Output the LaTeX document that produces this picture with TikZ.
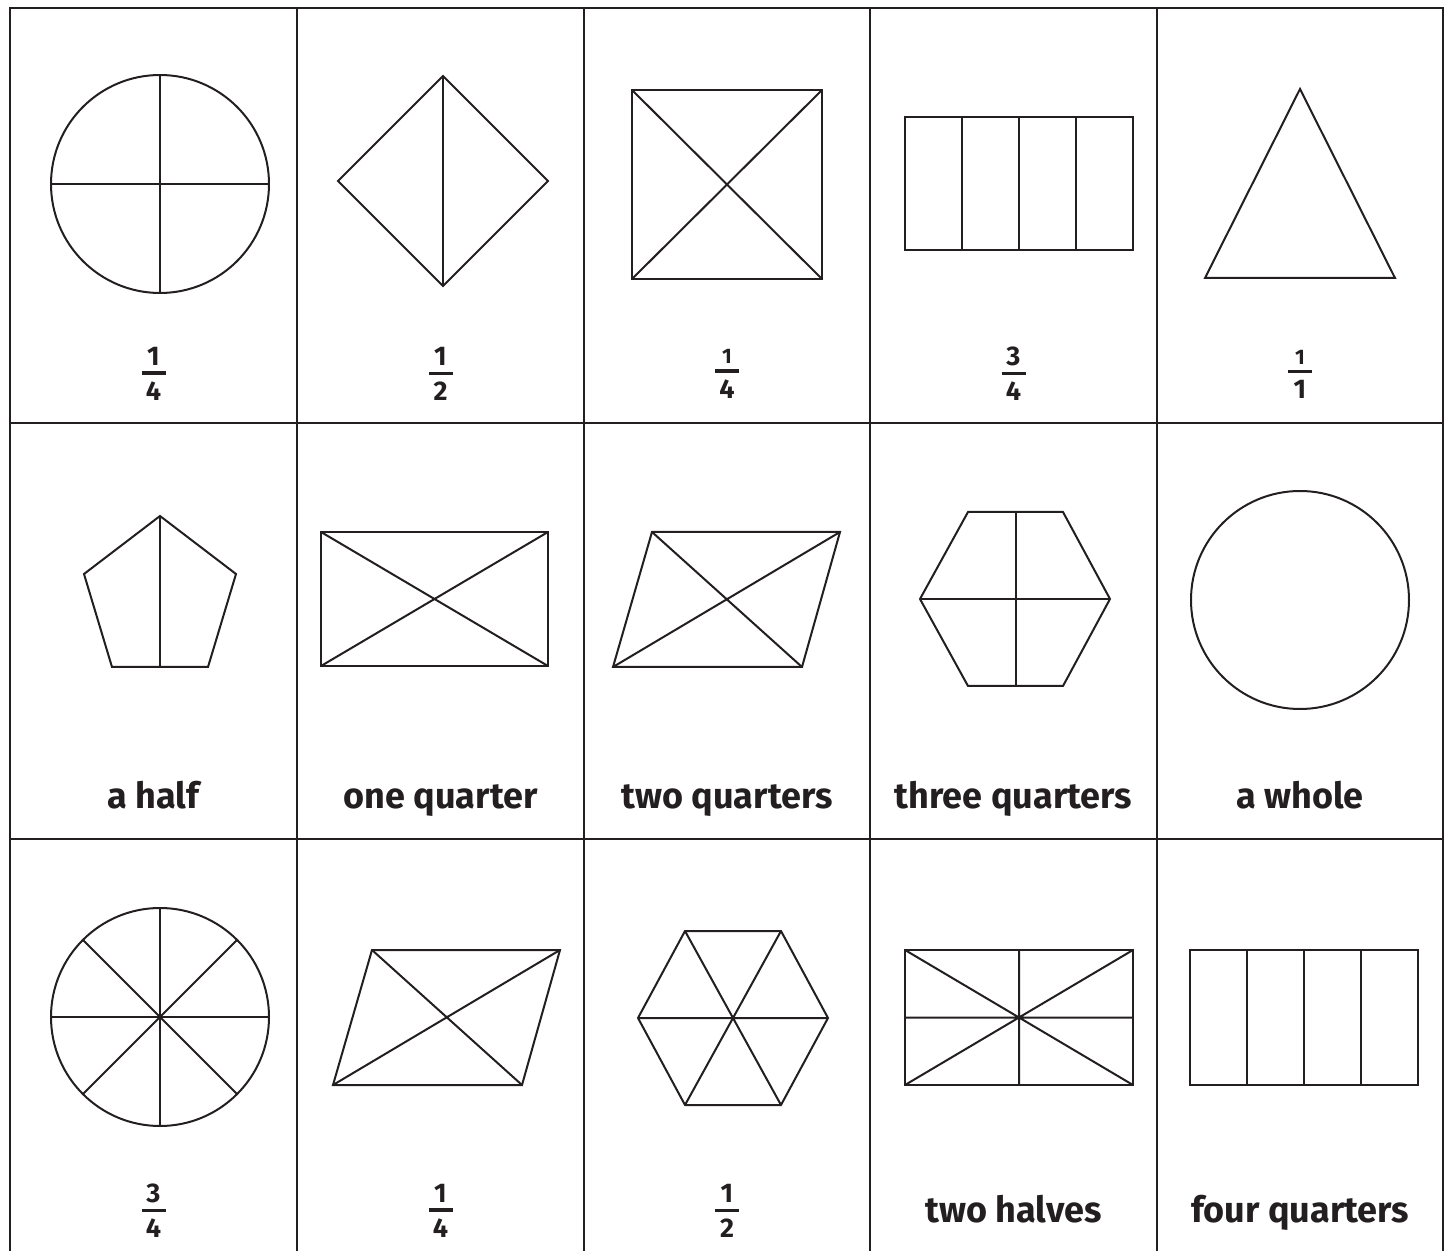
\documentclass[tikz,border=0pt]{standalone}
\usepackage{fontspec}
\setmainfont{Fira Sans}
\definecolor{ink}{HTML}{231F20}
\newcommand{\fr}[2]{\vbox{\offinterlineskip\halign{\hfil##\hfil\cr #1\cr\noalign{\vskip2.8pt}\rule{12pt}{1.7pt}\cr\noalign{\vskip3.4pt}#2\cr}}}
\newcommand{\smallnum}[1]{{\fontsize{10.5}{11}\selectfont #1}}
\begin{document}
\begin{tikzpicture}[x=0.5pt,y=-0.5pt,
  gridln/.style={draw=ink,line width=1.3pt},
  outl/.style={draw=ink,line width=1pt,line join=miter},
  lbl/.style={text=ink,font=\fontsize{18}{21}\bfseries\selectfont,anchor=base,inner sep=0pt},
  frc/.style={text=ink,font=\fontsize{13.5}{15}\bfseries\selectfont,inner sep=0pt}]
\useasboundingbox (0,0) rectangle (1453,1251);
% grid
\draw[gridln] (10,1251) -- (10,8) -- (1443,8) -- (1443,1251);
\foreach \x in {297,584,870,1157} \draw[gridln] (\x,8) -- (\x,1251);
\foreach \y in {423,839} \draw[gridln] (10,\y) -- (1443,\y);
% ---- row 1 ----
\draw[outl] (160,184) circle[radius=54.5pt];
\draw[outl] (51,184) -- (269,184) (160,75) -- (160,293);
\draw[outl] (338,181) -- (443,76) -- (548,181) -- (443,286) -- cycle;
\draw[outl] (443,76) -- (443,286);
\draw[outl] (632,90) rectangle (822,279);
\draw[outl] (632,90) -- (822,279) (822,90) -- (632,279);
\draw[outl] (905,117) rectangle (1133,250);
\foreach \x in {962,1019,1076} \draw[outl] (\x,117) -- (\x,250);
\draw[outl] (1300,89) -- (1395,278) -- (1205,278) -- cycle;
\node[frc] (f11) at (153.5,374) {\fr{1}{4}};
\node[frc] (f12) at (440.5,374) {\fr{1}{2}};
\node[frc] (f13) at (727,374) {\fr{\smallnum{1}}{4}};
\node[frc] (f14) at (1013.5,374) {\fr{3}{4}};
\node[frc] (f15) at (1300,374) {\fr{\smallnum{1}}{1}};
% ---- row 2 ----
\draw[outl] (160,516) -- (236,574) -- (208,667) -- (112,667) -- (84,574) -- cycle;
\draw[outl] (160,516) -- (160,667);
\draw[outl] (321,532) rectangle (548,666);
\draw[outl] (321,532) -- (548,666) (548,532) -- (321,666);
\draw[outl] (652,532) -- (840,532) -- (802,667) -- (613,667) -- cycle;
\draw[outl] (652,532) -- (802,667) (840,532) -- (613,667);
\draw[outl] (968,512) -- (1063,512) -- (1110,599) -- (1063,686) -- (968,686) -- (920,599) -- cycle;
\draw[outl] (1015.5,512) -- (1015.5,686) (920,599) -- (1110,599);
\draw[outl] (1300,600) circle[radius=54.5pt];
\node[lbl] (t21) at (153.5,809) {a half};
\node[lbl] (t22) at (440.5,809) {one quarter};
\node[lbl] (t23) at (727,809) {two quarters};
\node[lbl] (t24) at (1013.5,809) {three quarters};
\node[lbl] (t25) at (1300,809) {a whole};
% ---- row 3 ----
\draw[outl] (160,1017) circle[radius=54.5pt];
\foreach \a in {0,45,90,135} \draw[outl] (160,1017) ++(\a:54.5pt) -- ++(\a+180:109pt);
\draw[outl] (372,950) -- (560,950) -- (522,1085) -- (333,1085) -- cycle;
\draw[outl] (372,950) -- (522,1085) (560,950) -- (333,1085);
\draw[outl] (685,931) -- (781,931) -- (828,1018) -- (781,1105) -- (685,1105) -- (638,1018) -- cycle;
\draw[outl] (685,931) -- (781,1105) (781,931) -- (685,1105) (638,1018) -- (828,1018);
\draw[outl] (905,950) rectangle (1133,1085);
\draw[outl] (905,950) -- (1133,1085) (1133,950) -- (905,1085) (1019,950) -- (1019,1085) (905,1017.5) -- (1133,1017.5);
\draw[outl] (1190,950) rectangle (1418,1085);
\foreach \x in {1247,1304,1361} \draw[outl] (\x,950) -- (\x,1085);
\node[frc] (f31) at (153.5,1211) {\fr{3}{4}};
\node[frc] (f32) at (440.5,1211) {\fr{1}{4}};
\node[frc] (f33) at (727,1211) {\fr{1}{2}};
\node[lbl] (t34) at (1013.5,1222) {two halves};
\node[lbl] (t35) at (1300,1222) {four quarters};
\end{tikzpicture}
\end{document}
